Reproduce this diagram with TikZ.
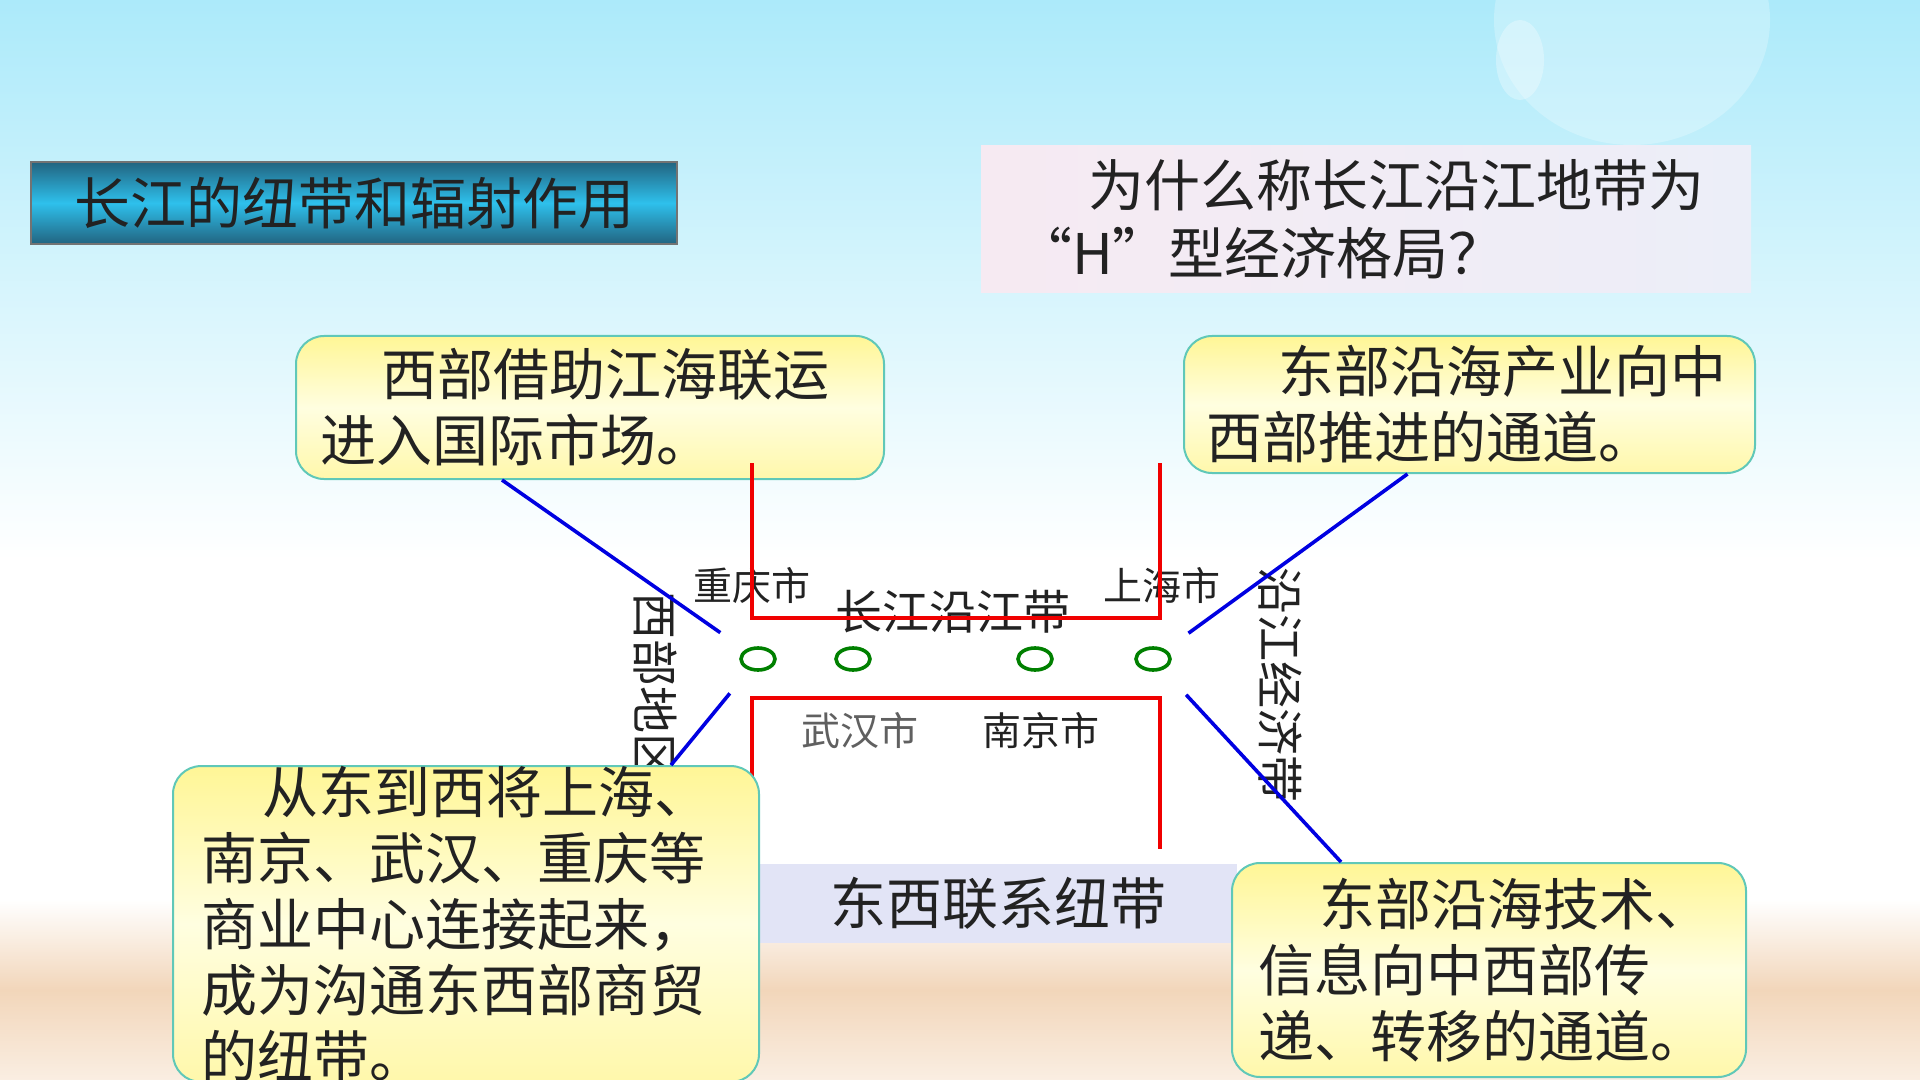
\documentclass[tikz,border=0pt]{standalone}
\usepackage{fontspec}
\newfontfamily\cjk{Noto Sans CJK SC}
\usetikzlibrary{shapes.geometric}
\definecolor{skyblue}{RGB}{172,234,250}
\definecolor{sand}{RGB}{242,214,186}
\definecolor{sandlight}{RGB}{250,238,226}
\definecolor{tealdark}{RGB}{34,100,128}
\definecolor{tealbright}{RGB}{46,192,236}
\definecolor{boxedge}{RGB}{96,200,184}
\definecolor{boxyellow}{RGB}{255,246,150}
\definecolor{boxpale}{RGB}{255,254,224}
\definecolor{bandfill}{RGB}{226,228,246}
\definecolor{askleft}{RGB}{246,234,242}
\definecolor{askright}{RGB}{236,238,248}
\definecolor{textdark}{RGB}{34,34,34}
\definecolor{textgrey}{RGB}{96,96,96}
\definecolor{citygreen}{RGB}{0,128,0}
\definecolor{riverred}{RGB}{240,0,0}
\definecolor{linkblue}{RGB}{0,0,225}

\tikzset{
  bubble/.style={draw=boxedge, line width=1pt, rounded corners=14pt,
    top color=boxyellow, bottom color=boxyellow!80, middle color=boxpale,
    align=left, inner sep=0pt, text=textdark,
    font=\cjk\fontsize{28}{33}\selectfont},
  citylabel/.style={text=textdark, inner sep=0pt, font=\cjk\fontsize{19.5}{22}\selectfont},
  beltlabel/.style={text=textdark, inner sep=0pt, font=\cjk\fontsize{23.5}{26}\selectfont},
  city/.style={ellipse, draw=citygreen, line width=1.8pt, minimum width=17pt,
    minimum height=11pt, inner sep=0pt},
  river/.style={draw=riverred, line width=2pt},
  link/.style={draw=linkblue, line width=1.8pt}
}

\begin{document}
\begin{tikzpicture}[x=0.5pt, y=-0.5pt]
  \useasboundingbox (0,0) rectangle (1920,1080);
  % background: sky, white middle, sand
  \fill[white] (0,0) rectangle (1920,1080);
  \shade[top color=skyblue, bottom color=white] (0,0) rectangle (1920,560);
  \shade[top color=white, bottom color=sandlight, middle color=sand] (0,900) rectangle (1920,1080);
  \fill[white, opacity=0.25] (1632,20) ellipse (138 and 125);
  \fill[white, opacity=0.3] (1520,60) ellipse (24 and 40);

  % title and question
  \node[draw=black!55, line width=0.8pt, top color=tealdark, bottom color=tealdark,
    middle color=tealbright, minimum width=323pt, minimum height=41pt, inner sep=0pt,
    text=textdark, font=\cjk\fontsize{28}{33}\selectfont] (title) at (354,203) {长江的纽带和辐射作用};
  \node[left color=askleft, right color=askright, minimum width=385pt, minimum height=73.5pt,
    text width=350pt, align=left, inner sep=0pt, text=textdark,
    font=\cjk\fontsize{28}{34}\selectfont] (ask) at (1366,219.5)
    {\hspace*{1.3em}为什么称长江沿江地带为\\“H”型经济格局？};

  % cities on the river
  \node[city] (cq) at (758,659) {};
  \node[city] (wh) at (853,659) {};
  \node[city] (nj) at (1035,659) {};
  \node[city] (sh) at (1153,659) {};
  \node[citylabel] (cqname) at (752,585) {重庆市};
  \node[citylabel] (shname) at (1162,585) {上海市};
  \node[citylabel, text=textgrey] (whname) at (860,731) {武汉市};
  \node[citylabel] (njname) at (1041,731) {南京市};
  \node[beltlabel] (belt) at (953,612) {长江沿江带};
  \node[beltlabel, rotate=-90] (west) at (655,686) {西部地区};
  \node[beltlabel, rotate=-90] (along) at (1280,685) {沿江经济带};

  % boxes
  \node[bubble, minimum width=294pt, minimum height=71.5pt, text width=270pt] (tl) at (590,407.5)
    {\hspace*{1.1em}西部借助江海联运\\进入国际市场。};
  \node[bubble, minimum width=285.5pt, minimum height=68.5pt, text width=263.5pt] (tr) at (1469.5,404.5)
    {\hspace*{1.3em}东部沿海产业向中\\西部推进的通道。};
  \node[fill=bandfill, minimum width=239pt, minimum height=39.5pt, inner sep=0pt,
    text=textdark, font=\cjk\fontsize{28}{33}\selectfont] (ew) at (998,903.5) {东西联系纽带};

  % the H
  \draw[river] (752,463) |- (1160,618) -- (1160,463);
  \draw[river] (752,849) |- (1160,698) -- (1160,849);

  % links from the boxes to the cities
  \draw[link, shorten >=15pt] ([xshift=-44pt]tl.south) -- (cq);
  \draw[link, shorten >=14pt] ([xshift=-31pt]tr.south) -- (sh);

  \node[bubble, minimum width=293pt, minimum height=153pt, text width=265pt] (bl) at (466,924)
    {\hspace*{1.1em}从东到西将上海、\\南京、武汉、重庆等\\商业中心连接起来，\\成为沟通东西部商贸\\的纽带。};
  \node[bubble, minimum width=257pt, minimum height=107pt, text width=231pt] (br) at (1489,970)
    {\hspace*{1.1em}东部沿海技术、\\信息向中西部传\\递、转移的通道。};

  \draw[link, shorten <=15pt] (cq) -- ([xshift=102.5pt]bl.north);
  \draw[link, shorten <=17pt] (sh) -- ([xshift=-74pt]br.north);
\end{tikzpicture}
\end{document}
